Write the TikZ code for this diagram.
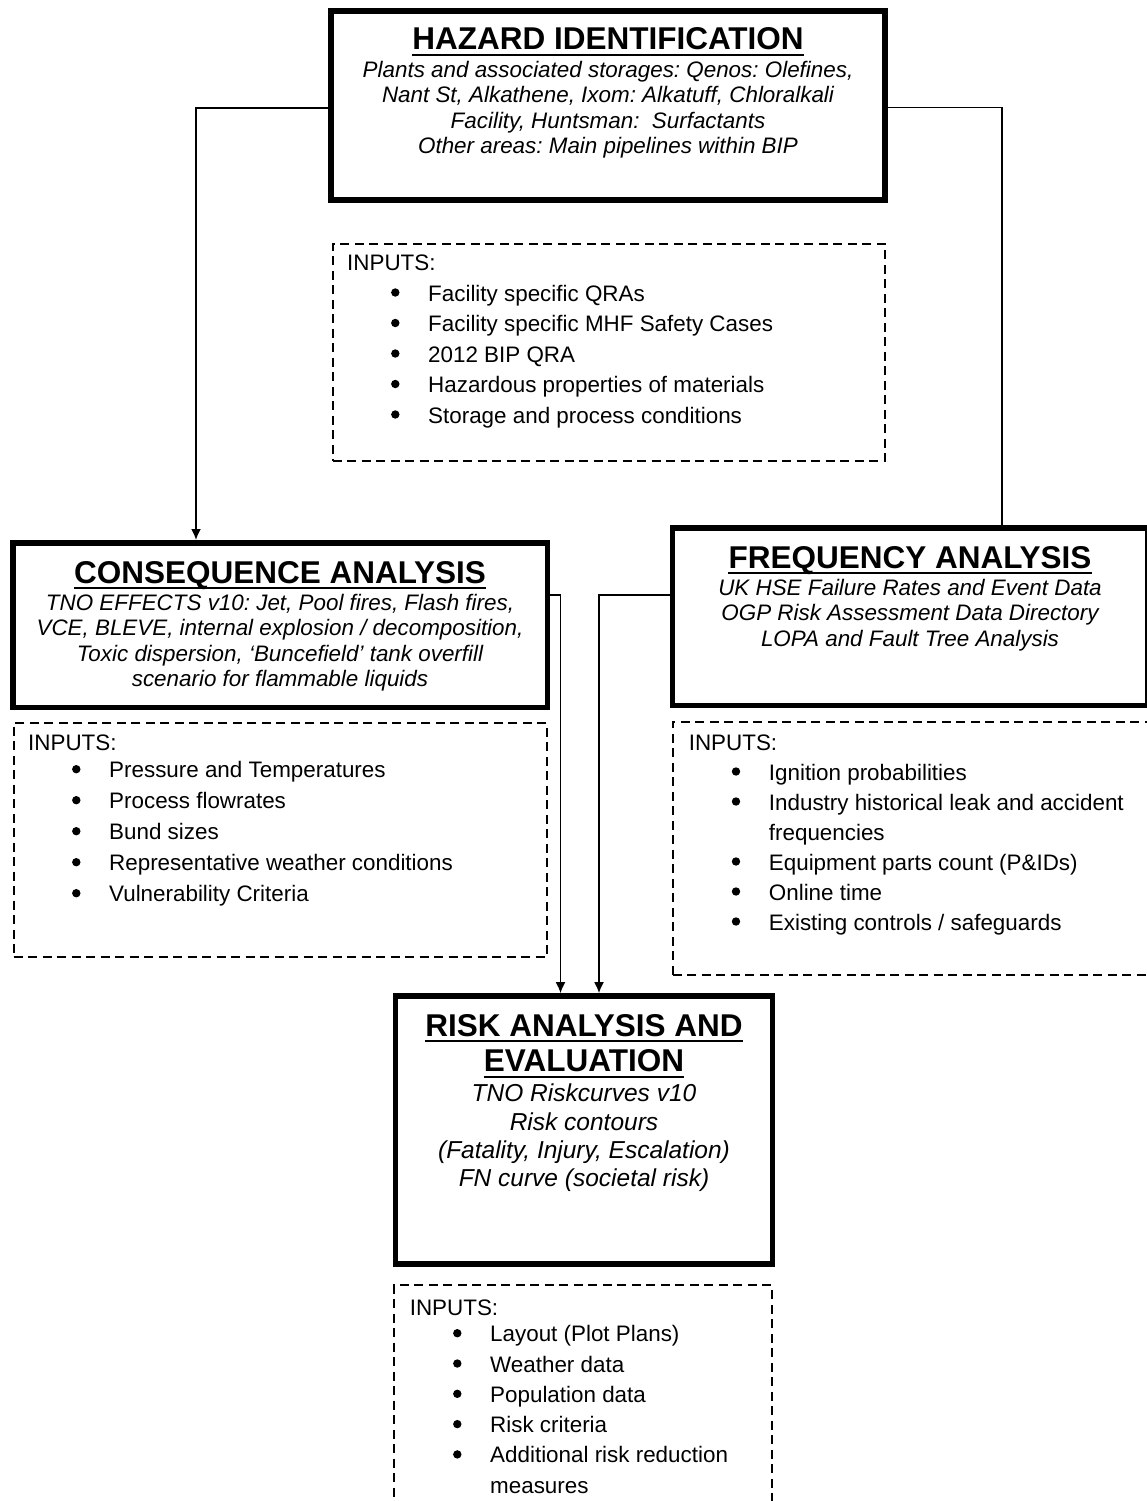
\documentclass[tikz,border=0pt]{standalone}
\usepackage{fontspec}
\setmainfont{Liberation Sans}
\frenchspacing
\usetikzlibrary{arrows.meta}

\begin{document}
\begin{tikzpicture}[x=1pt,y=-1pt,
stage/.style={draw,line width=5.5pt,inner sep=0pt},
inbox/.style={draw,line width=1.8pt,dash pattern=on 9pt off 5.5pt,inner sep=0pt},
head/.style={anchor=base,inner sep=0pt,font=\fontsize{31.5}{36}\selectfont\bfseries},
desc/.style={anchor=base,inner sep=0pt,font=\fontsize{22.4}{25.6}\selectfont\itshape},
inp/.style={anchor=base west,inner sep=0pt,font=\fontsize{22.4}{30}\selectfont},
uline/.style={line width=2.2pt},
link/.style={line width=1.8pt},
feed/.style={link,-{Latex[length=11pt,width=10pt]}}]
\useasboundingbox (0,0) rectangle (1146,1501);

% the four stages
\node[stage,minimum width=554,minimum height=189] (haz) at (608,105.5) {};
\node[stage,minimum width=534.5,minimum height=164.5] (cons) at (280,625) {};
\node[stage,minimum width=474.9,minimum height=177.5] (freq) at (909.8,616.5) {};
\node[stage,minimum width=376.8,minimum height=268.25] (risk) at (583.85,1130.1) {};

\node[head] (hazT) at (608,50) {HAZARD IDENTIFICATION};
\foreach \t [count=\i] in {{Plants and associated storages: Qenos: Olefines,},
{Nant St, Alkathene, Ixom: Alkatuff, Chloralkali},
{Facility, Huntsman:~ Surfactants},
{Other areas: Main pipelines within BIP}}
\node[desc] (hazD\i) at (608,77.3+25.55*\i-25.55) {\t};

\node[head] (consT) at (280,583.3) {CONSEQUENCE ANALYSIS};
\foreach \t [count=\i] in {{TNO EFFECTS v10: Jet, Pool fires, Flash fires,},
{VCE, BLEVE, internal explosion / decomposition,},
{Toxic dispersion, ‘Buncefield’ tank overfill},
{scenario for flammable liquids}}
\node[desc] (consD\i) at (280,610+25.6*\i-25.6) {\t};

\node[head] (freqT) at (910,568.3) {FREQUENCY ANALYSIS};
\foreach \t [count=\i] in {UK HSE Failure Rates and Event Data,
OGP Risk Assessment Data Directory,
LOPA and Fault Tree Analysis}
\node[desc] (freqD\i) at (910,595+25.8*\i-25.8) {\t};

\node[head] (riskT1) at (584,1036) {RISK ANALYSIS AND};
\node[head] (riskT2) at (584,1071.7) {EVALUATION};
\foreach \t [count=\i] in {TNO Riskcurves v10,Risk contours,
{(Fatality, Injury, Escalation)},{FN curve (societal risk)}}
\node[desc,font=\fontsize{24.5}{28.3}\selectfont\itshape] (riskD\i) at (584,1101.7+28.3*\i-28.3) {\t};

% underlined headings
\foreach \n in {hazT,consT,freqT,riskT1,riskT2}
\draw[uline] ([yshift=-5pt]\n.base west) -- ([yshift=-5pt]\n.base east);

% inputs
\node[inbox,minimum width=552.3,minimum height=217] (hazIn) at (608.85,352.2) {};
\node[inp] (hazI) at (347,270.7) {INPUTS:};
\foreach \t [count=\i] in {Facility specific QRAs,Facility specific MHF Safety Cases,
2012 BIP QRA,Hazardous properties of materials,Storage and process conditions}{
\node[inp] (hazI\i) at (428,270.5+30.5*\i) {\t};
\fill ([xshift=-32.7pt,yshift=8.5pt]hazI\i.base west) circle (4.2pt);}

\node[inbox,minimum width=533.3,minimum height=234.6] (consIn) at (280.35,840) {};
\node[inp] (consI) at (28,750.7) {INPUTS:};
\foreach \t [count=\i] in {Pressure and Temperatures,Process flowrates,Bund sizes,
Representative weather conditions,Vulnerability Criteria}{
\node[inp] (consI\i) at (109,777.7+31*\i-31) {\t};
\fill ([xshift=-32.7pt,yshift=8.5pt]consI\i.base west) circle (4.2pt);}

\node[inbox,minimum width=476.3,minimum height=253.3] (freqIn) at (910.85,848.35) {};
\node[inp] (freqI) at (688.6,750.7) {INPUTS:};
\foreach \t/\b [count=\i] in {Ignition probabilities/1,Industry historical leak and accident/1,
frequencies/0,Equipment parts count (P\&IDs)/1,Online time/1,
{Existing controls / safeguards}/1}{
\node[inp] (freqI\i) at (768.7,780+30*\i-30) {\t};
\ifnum\b=1 \fill ([xshift=-32.7pt,yshift=8.5pt]freqI\i.base west) circle (4.2pt);\fi}

\node[inbox,minimum width=378,minimum height=245] (riskIn) at (582.7,1407.5) {};
\node[inp] (riskI) at (409.6,1315) {INPUTS:};
\foreach \t/\b [count=\i] in {Layout (Plot Plans)/1,Weather data/1,Population data/1,
Risk criteria/1,Additional risk reduction/1,measures/0}{
\node[inp] (riskI\i) at (490,1341.7+30.3*\i-30.3) {\t};
\ifnum\b=1 \fill ([xshift=-32.7pt,yshift=8.5pt]riskI\i.base west) circle (4.2pt);\fi}

% connectors
\draw[feed] ([yshift=-2.5pt]haz.west) -| ([xshift=186pt]cons.north west);
\draw[link] ([yshift=-2pt]haz.east) -| ([xshift=332.1pt]freq.north west);
\draw[feed] ([yshift=30pt]cons.east) -| ([xshift=167.8pt]risk.north west);
\draw[feed] ([yshift=21.5pt]freq.west) -| ([xshift=206.3pt]risk.north west);
\end{tikzpicture}
\end{document}
